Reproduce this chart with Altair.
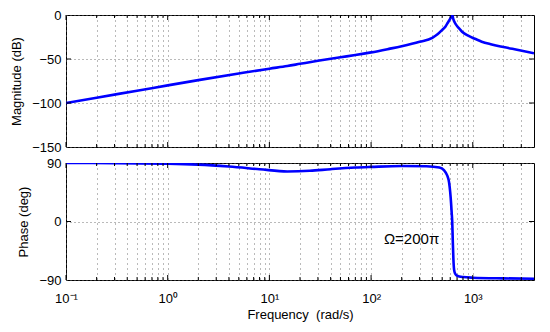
import altair as alt
import pandas as pd

# ---- data ----
mag_freq = [0.1, 0.2, 0.5, 1, 2, 5, 10, 15, 20, 30, 50, 70, 100, 150, 200, 300, 400,
            450, 500, 540, 570, 595, 612, 628, 645, 665, 690, 730, 785, 900, 1050,
            1225, 1500, 2000, 2800, 4000]
mag_db = [-100, -94, -86, -80, -74, -66.5, -61, -58, -55.5, -52, -48, -45.5, -42.5,
          -38.5, -35.5, -30.5, -26, -22, -17, -13, -8.5, -5, -2.5, 0, -5, -8.5,
          -11.5, -15, -19, -23.5, -27, -30.3, -33.2, -36.4, -39.8, -43.5]

phase_freq = [0.1, 0.3, 1, 2, 4, 8, 15, 25, 40, 70, 100, 200, 350, 470, 520, 560,
              585, 600, 612, 620, 628, 636, 645, 655, 670, 700, 800, 1000, 2000, 4000]
phase_deg = [90, 89.8, 89, 87.5, 84.5, 80.5, 77, 78, 80.5, 83, 84, 85.5, 85, 83, 79,
             71, 60, 45, 28, 14, 0, -30, -58, -74, -80, -83.5, -85.5, -86.5, -87.5, -88]

decade_ticks = [0.1, 1, 10, 100, 1000]
decade_labels = ["10\u207b\u00b9", "10\u2070", "10\u00b9", "10\u00b2", "10\u00b3"]
minor_ticks = [0.2, 0.3, 0.4, 0.5, 0.6, 0.7, 0.8, 0.9,
               2, 3, 4, 5, 6, 7, 8, 9,
               20, 30, 40, 50, 60, 70, 80, 90,
               200, 300, 400, 500, 600, 700, 800, 900,
               2000, 3000]
mag_ticks = [0, -50, -100, -150]
phase_ticks = [90, 0, -90]
mag_inner_ticks = [-50, -100]
phase_inner_ticks = [0]

note_freq = [250]
note_deg = [-27]
note_text = ["\u03a9=200\u03c0"]

# ---- layout / style ----
W = 468
H1 = 132
H2 = 117
FONT = "Liberation Sans"
BLUE = "#0000ff"
GRID = "#666666"

all_x_ticks = sorted(decade_ticks + minor_ticks)
xscale = alt.Scale(type="log", domain=[0.1, 4000], nice=False)
mag_scale = alt.Scale(domain=[-150, 0], nice=False)
phase_scale = alt.Scale(domain=[-90, 90], nice=False)

label_expr = " : ".join(
    f"datum.value == {v} ? '{l}'" for v, l in zip(decade_ticks, decade_labels)
) + " : ''"

mag_df = pd.DataFrame({"freq": mag_freq, "val": mag_db})
phase_df = pd.DataFrame({"freq": phase_freq, "val": phase_deg})
major_df = pd.DataFrame({"freq": decade_ticks})
minor_df = pd.DataFrame({"freq": minor_ticks})
note_df = pd.DataFrame({"freq": note_freq, "val": note_deg, "text": note_text})

x_top_axis = alt.Axis(values=all_x_ticks, grid=True, gridDash=[1, 4], gridColor=GRID,
                      gridOpacity=0.9, labels=False, ticks=False, domain=False, title=None)
x_bot_axis = alt.Axis(values=all_x_ticks, grid=True, gridDash=[1, 4], gridColor=GRID,
                      gridOpacity=0.9, labelExpr=label_expr, labelOverlap=False,
                      labelFlush=False, ticks=False, domain=False, labelPadding=12,
                      title="Frequency\u00a0 (rad/s)", titlePadding=3)


def y_axis(vals, title):
    return alt.Axis(values=vals, grid=True, gridDash=[1, 3], gridColor=GRID,
                    gridOpacity=0.9, ticks=False, domain=False, labelPadding=5,
                    title=title, titlePadding=8)


def tick_layers(xaxis, yscale, height, inner_vals):
    layers = []
    for df, ln in ((major_df, 5), (minor_df, 3)):
        base = alt.Chart(df).mark_rule(color="black", strokeWidth=1)
        layers.append(base.encode(x=alt.X("freq:Q", scale=xscale, axis=xaxis),
                                  y=alt.value(0), y2=alt.value(ln)))
        layers.append(base.encode(x=alt.X("freq:Q", scale=xscale, axis=xaxis),
                                  y=alt.value(height), y2=alt.value(height - ln)))
    ydf = pd.DataFrame({"val": inner_vals})
    ybase = alt.Chart(ydf).mark_rule(color="black", strokeWidth=1)
    layers.append(ybase.encode(y=alt.Y("val:Q", scale=yscale),
                               x=alt.value(0), x2=alt.value(5)))
    layers.append(ybase.encode(y=alt.Y("val:Q", scale=yscale),
                               x=alt.value(W), x2=alt.value(W - 5)))
    return layers


mag_line = alt.Chart(mag_df).mark_line(color=BLUE, strokeWidth=2.6, clip=True,
                                       interpolate="monotone").encode(
    x=alt.X("freq:Q", scale=xscale, axis=x_top_axis),
    y=alt.Y("val:Q", scale=mag_scale, axis=y_axis(mag_ticks, "Magnitude (dB)")),
)
top = alt.layer(
    mag_line, *tick_layers(x_top_axis, mag_scale, H1, mag_inner_ticks)
).properties(width=W, height=H1)

phase_line = alt.Chart(phase_df).mark_line(color=BLUE, strokeWidth=2.6, clip=True,
                                           interpolate="monotone").encode(
    x=alt.X("freq:Q", scale=xscale, axis=x_bot_axis),
    y=alt.Y("val:Q", scale=phase_scale, axis=y_axis(phase_ticks, "Phase (deg)")),
)
note = alt.Chart(note_df).mark_text(font=FONT, fontSize=15, color="black",
                                    align="center", baseline="middle").encode(
    x=alt.X("freq:Q", scale=xscale, axis=x_bot_axis),
    y=alt.Y("val:Q", scale=phase_scale),
    text="text:N",
)
bottom = alt.layer(
    phase_line, note, *tick_layers(x_bot_axis, phase_scale, H2, phase_inner_ticks)
).properties(width=W, height=H2)

chart = alt.vconcat(top, bottom, spacing=16, bounds="flush").properties(
    padding={"left": 2, "top": 0, "right": 5, "bottom": 0}
).configure_view(
    stroke="black", strokeWidth=1
).configure_axis(
    labelFont=FONT, titleFont=FONT, labelFontSize=13, titleFontSize=13,
    labelColor="black", titleColor="black", titleFontWeight="normal"
)

chart.save("out.html", embed_options={"renderer": "svg", "actions": False})
